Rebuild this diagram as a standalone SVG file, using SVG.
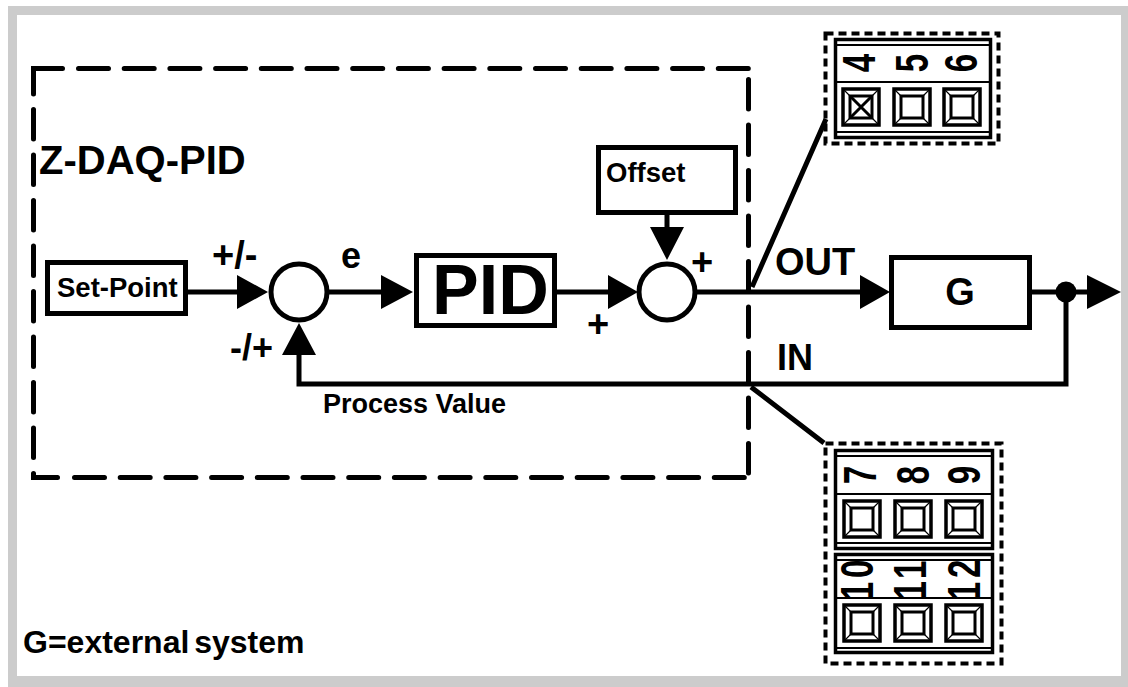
<svg xmlns="http://www.w3.org/2000/svg" width="1128" height="687" viewBox="0 0 1128 687">
<style>
text{font-family:"Liberation Sans",Arial,sans-serif;font-weight:bold;fill:#000}
.box{fill:#fff;stroke:#000;stroke-width:5}
.ln{fill:none;stroke:#000;stroke-width:5}
.dv{stroke-dasharray:29.5 16}
.dh{stroke-dasharray:30 15.7}
.bd{fill:none;stroke:#000;stroke-width:5;stroke-linecap:round}
.frame{fill:none;stroke:#000;stroke-width:4;stroke-dasharray:8 5}
.thin{fill:none;stroke:#000;stroke-width:2}
.out{fill:none;stroke:#000;stroke-width:3.5}
.in{fill:none;stroke:#000;stroke-width:3}
.bev{stroke:#000;stroke-width:1.2;fill:none}
.dg{font-size:33px;text-anchor:middle}
</style>
<defs>
<g id="sq"><rect class="out" x="2" y="2" width="36" height="36"/><rect class="in" x="9" y="9" width="22" height="22"/><path class="bev" d="M2 2L9 9M38 2L31 9M2 38L9 31M38 38L31 31"/></g>
</defs>
<rect x="0" y="0" width="1128" height="687" fill="#fff"/>
<path d="M8 6H1128V687H8ZM17 15V676H1121V15Z" fill="#ccc" fill-rule="evenodd"/>
<g id="boundary">
<path class="bd" d="M33.500 94V68.500H62.500M33.500 473.500V477.500H57.500"/>
<path class="bd dv" d="M33.500 109.500V458M748.500 79.500V473"/>
<path class="bd dh" d="M78.500 68.500H749M74.500 477.500H745"/>
</g>
<g id="connectors">
<path class="ln" d="M186 292H240M329 292H384M557 292H610M697 292H862M1032 292H1090M1066 292V384H299V352M667 215V230"/>
<path class="ln" d="M752 287L826 119M751 387L824 443"/>
<path d="M268 292L237 275V309ZM413 292L381 275V309ZM638 292L608 275V309ZM890 292L860 275V309ZM1121 292L1087 275V309ZM299 323L282 355H316ZM667 260L650 227H684Z"/>
<circle cx="1066" cy="292" r="10.5"/>
</g>
<g id="setpoint"><rect class="box" x="47.500" y="262.500" width="138" height="51"/><text x="57" y="297" font-size="27.500">Set-Point</text></g>
<g id="sum1"><circle cx="299" cy="292" r="28" fill="#fff" stroke="#000" stroke-width="5"/></g>
<g id="pid"><rect class="box" x="416.500" y="255.500" width="138" height="70"/><text x="432" y="314" font-size="70">PID</text></g>
<g id="sum2"><circle cx="667" cy="292" r="28" fill="#fff" stroke="#000" stroke-width="5"/></g>
<g id="offset"><rect class="box" x="598.500" y="147.500" width="137" height="65"/><text x="606" y="182" font-size="27.500">Offset</text></g>
<g id="g"><rect class="box" x="891.500" y="257.500" width="138" height="70"/><text x="960" y="305" font-size="38" text-anchor="middle">G</text></g>
<g id="labels">
<text x="39" y="174" font-size="40">Z-DAQ-PID</text>
<text x="212" y="268" font-size="38">+/-</text>
<text x="341" y="268" font-size="36">e</text>
<text x="230" y="360" font-size="36">-/+</text>
<text x="323" y="413" font-size="27">Process Value</text>
<text x="775" y="275" font-size="38">OUT</text>
<text x="777" y="370" font-size="36">IN</text>
<text x="691" y="275" font-size="38">+</text>
<text x="587" y="337" font-size="38">+</text>
<text x="23" y="653" font-size="32" word-spacing="-4">G=external system</text>
</g>
<g id="terminal-out">
<rect class="frame" x="825.500" y="33.500" width="173" height="110"/>
<rect class="out" x="835.500" y="39.500" width="155" height="98"/>
<path class="thin" d="M835 45H990M835 82H990M835 132H990"/>
<use href="#sq" x="841" y="87"/><use href="#sq" x="892" y="87"/><use href="#sq" x="942" y="87"/>
<path class="in" stroke-width="2" d="M850 96L872 118M872 96L850 118"/>
<text class="dg" transform="translate(875,63) rotate(-90) scale(1,1.4)">4</text>
<text class="dg" transform="translate(928,63) rotate(-90) scale(1,1.4)">5</text>
<text class="dg" transform="translate(977,63) rotate(-90) scale(1,1.4)">6</text>
</g>
<g id="terminal-in">
<rect class="frame" x="825.500" y="443.500" width="176" height="220"/>
<rect class="out" x="835.500" y="450.500" width="157" height="98"/>
<path class="thin" d="M835 456H993M835 494H993M835 543H993"/>
<use href="#sq" x="842" y="499"/><use href="#sq" x="893" y="499"/><use href="#sq" x="944" y="499"/>
<text class="dg" transform="translate(876,475) rotate(-90) scale(1,1.4)">7</text>
<text class="dg" transform="translate(929,475) rotate(-90) scale(1,1.4)">8</text>
<text class="dg" transform="translate(980,475) rotate(-90) scale(1,1.4)">9</text>
<rect class="out" x="835.500" y="554.500" width="157" height="98"/>
<path class="thin" d="M835 560H993M835 598H993M835 648H993"/>
<use href="#sq" x="842" y="603"/><use href="#sq" x="893" y="603"/><use href="#sq" x="944" y="603"/>
<text class="dg" letter-spacing="4" transform="translate(873,578) rotate(-90) scale(1,1.4)">10</text>
<text class="dg" letter-spacing="4" transform="translate(926,578) rotate(-90) scale(1,1.4)">11</text>
<text class="dg" letter-spacing="4" transform="translate(980,578) rotate(-90) scale(1,1.4)">12</text>
</g>
</svg>
